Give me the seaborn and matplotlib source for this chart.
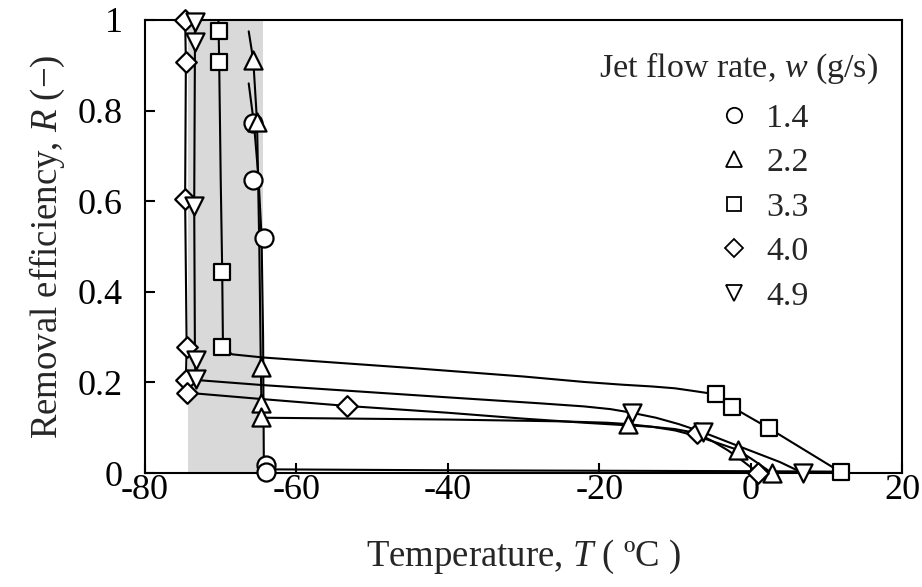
import numpy as np
import pandas as pd
import matplotlib
matplotlib.use("Agg")
import matplotlib.pyplot as plt
import seaborn as sns
from matplotlib.lines import Line2D

# ---------------- data ----------------
flow_labels = ["1.4", "2.2", "3.3", "4.0", "4.9"]

T_14 = [-65.7, -65.7, -64.3, -64.0, -64.0]
R_14 = [0.772, 0.647, 0.518, 0.017, 0.003]
T_22 = [-65.7, -65.2, -64.7, -64.7, -64.7, -16.2, -1.7, 2.8]
R_22 = [0.912, 0.775, 0.234, 0.155, 0.124, 0.108, 0.051, 0.0]
T_33 = [-70.2, -70.2, -69.8, -69.8, -4.6, -2.5, 2.4, 11.9]
R_33 = [0.976, 0.907, 0.444, 0.278, 0.174, 0.146, 0.099, 0.002]
T_40 = [-74.7, -74.6, -74.7, -74.5, -74.6, -74.4, -53.3, -7.1, 1.0]
R_40 = [1.0, 0.907, 0.605, 0.278, 0.205, 0.177, 0.148, 0.088, 0.0]
T_49 = [-73.4, -73.4, -73.5, -73.3, -73.3, -15.7, -6.3, 6.9]
R_49 = [0.995, 0.952, 0.59, 0.25, 0.207, 0.132, 0.09, 0.0]

# fitted curves
fitT_14 = [-66.3, -65.6, -65.0, -64.6, -64.4, -64.3, -63.0, -40.0, 0.0, 12.0]
fitR_14 = [0.86, 0.77, 0.65, 0.52, 0.30, 0.02, 0.008, 0.006, 0.004, 0.003]
fitT_22 = [-66.3, -65.7, -65.2, -64.9, -64.7, -64.6, -64.3, -40.0, -25.0, -19.0, -16.2,
           -13.0, -10.0, -7.0, -4.5, -1.7, 0.5, 2.8]
fitR_22 = [0.975, 0.912, 0.775, 0.5, 0.234, 0.14, 0.122, 0.118, 0.114, 0.111, 0.108,
           0.102, 0.094, 0.081, 0.067, 0.051, 0.027, 0.0]
fitT_33 = [-70.3, -70.2, -70.0, -69.8, -69.7, -68.5, -64.4, -45.0, -30.0, -22.0, -17.0,
           -13.0, -10.0, -7.5, -5.5, -4.6, -2.5, 2.4, 11.9]
fitR_33 = [1.0, 0.907, 0.65, 0.444, 0.278, 0.262, 0.255, 0.232, 0.213, 0.201, 0.195,
           0.191, 0.187, 0.181, 0.176, 0.174, 0.146, 0.099, 0.002]
fitT_40 = [-74.7, -74.6, -74.7, -74.5, -74.6, -74.3, -64.4, -53.3, -40.0, -30.0, -22.0,
           -17.0, -13.0, -10.0, -7.1, -5.0, -3.0, -1.0, 1.0]
fitR_40 = [1.0, 0.907, 0.605, 0.278, 0.205, 0.177, 0.163, 0.148, 0.133, 0.12, 0.111,
           0.106, 0.102, 0.097, 0.088, 0.07, 0.05, 0.026, 0.0]
fitT_49 = [-73.4, -73.4, -73.5, -73.4, -73.3, -73.0, -64.4, -40.0, -28.0, -22.0, -18.5,
           -15.7, -12.5, -9.5, -6.3, -2.0, 3.9, 6.9]
fitR_49 = [1.0, 0.952, 0.59, 0.25, 0.207, 0.205, 0.194, 0.167, 0.154, 0.147, 0.141,
           0.133, 0.122, 0.108, 0.09, 0.062, 0.024, 0.0]

shade_T = [-74.3, -64.4]
x_ticks = [-80, -60, -40, -20, 0, 20]
y_ticks = [0, 0.2, 0.4, 0.6, 0.8, 1.0]
y_ticklabels = ["0", "0.2", "0.4", "0.6", "0.8", "1"]

# ---------------- build tables ----------------
pts = pd.concat([
    pd.DataFrame({"T": t, "R": r, "w": lab})
    for t, r, lab in zip([T_14, T_22, T_33, T_40, T_49],
                         [R_14, R_22, R_33, R_40, R_49], flow_labels)
], ignore_index=True)
fits = pd.concat([
    pd.DataFrame({"T": t, "R": r, "w": lab})
    for t, r, lab in zip([fitT_14, fitT_22, fitT_33, fitT_40, fitT_49],
                         [fitR_14, fitR_22, fitR_33, fitR_40, fitR_49], flow_labels)
], ignore_index=True)

markers = {"1.4": "o", "2.2": "^", "3.3": "s", "4.0": "D", "4.9": "v"}
msize = {"1.4": 13.0, "2.2": 13.0, "3.3": 12.0, "4.0": 10.5, "4.9": 13.0}

# ---------------- plot ----------------
sns.set_theme(style="ticks")
plt.rcParams["font.family"] = ["Liberation Serif", "DejaVu Serif"]
plt.rcParams["mathtext.fontset"] = "custom"
plt.rcParams["mathtext.rm"] = "Liberation Serif"
plt.rcParams["mathtext.it"] = "Liberation Serif:italic"
plt.rcParams["axes.unicode_minus"] = False

fig = plt.figure(figsize=(9.22, 5.87), dpi=100)
ax = fig.add_axes([145 / 922, 1 - 473 / 587, (902 - 145) / 922, (473 - 20) / 587])

ax.axvspan(shade_T[0], shade_T[1], color="#d9d9d9", lw=0, zorder=0)

sns.lineplot(data=fits, x="T", y="R", units="w", estimator=None, sort=False,
             color="black", lw=1.5, ax=ax, legend=False, zorder=2)

for lab in flow_labels:
    sub = pts[pts["w"] == lab]
    sns.scatterplot(data=sub, x="T", y="R", marker=markers[lab], s=msize[lab] ** 2,
                    color="white", edgecolor="black", linewidth=1.6, ax=ax,
                    legend=False, zorder=3, clip_on=False)

ax.set_xlim(-80, 20)
ax.set_ylim(0, 1)
ax.set_xticks(x_ticks)
ax.set_xticklabels([str(v) for v in x_ticks])
ax.set_yticks(y_ticks)
ax.set_yticklabels(y_ticklabels)
ax.tick_params(direction="in", length=7, width=1.5, labelsize=26, colors="black")
ax.tick_params(axis="x", pad=1)
ax.tick_params(axis="y", pad=16)
for s in ax.spines.values():
    s.set_linewidth(1.5)
    s.set_color("black")
    s.set_visible(True)

ax.set_xlabel("Temperature, $T$ ( ºC )", fontsize=26.5, labelpad=22)
ax.set_ylabel("Removal efficiency, $R$ (−)", fontsize=26.5, labelpad=8)

# legend
ax.text(878 / 922, 1 - 68 / 587, "Jet flow rate, $w$ (g/s)", transform=fig.transFigure,
        ha="right", va="center", fontsize=24.5)
handles = [Line2D([], [], marker=markers[l], ls="none", mfc="white", mec="black",
                  mew=1.3, ms=msize[l] * 0.85) for l in flow_labels]
leg = ax.legend(handles, flow_labels, loc="upper left",
                bbox_to_anchor=(717 / 922, 1 - 103 / 587), bbox_transform=fig.transFigure,
                frameon=False, fontsize=24.5, handlelength=1.0, handletextpad=0.45,
                labelspacing=0.40, borderpad=0, borderaxespad=0)

fig.savefig("out.png", dpi=100)
